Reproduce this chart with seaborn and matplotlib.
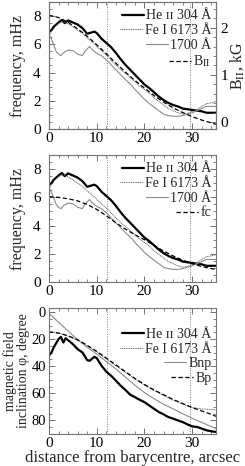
import matplotlib
matplotlib.use("Agg")
import matplotlib.pyplot as plt
from matplotlib.ticker import MultipleLocator
import seaborn as sns

# distance from barycentre, arcsec
he_x = [0, 0.5, 1, 2, 2.7, 3.3, 4, 5, 6, 7, 8, 8.5, 9.5, 10,
        11, 12, 13, 14, 15, 16, 17, 18, 19, 20, 21, 22, 23, 24, 25,
        26, 27, 28, 29, 30, 31, 32, 33, 34, 35]
he_freq = [6.9, 7.0, 7.25, 7.55, 7.73, 7.5, 7.7, 7.55, 7.4, 7.15, 6.75, 6.8, 6.9, 6.8,
           6.4, 6.1, 5.8, 5.4, 4.95, 4.55, 4.2, 3.85, 3.5, 3.15, 2.9, 2.6, 2.3, 2.05, 1.85,
           1.7, 1.6, 1.45, 1.4, 1.35, 1.3, 1.25, 1.15, 1.15, 1.15]

fe_x = list(range(36))
fe_freq = [6.65, 7.15, 7.5, 7.6, 7.45, 7.25, 7.0, 6.8, 6.45, 6.2, 5.85, 5.55,
           5.25, 4.9, 4.55, 4.2, 3.95, 3.65, 3.35, 3.05, 2.8, 2.55, 2.2, 1.95,
           1.7, 1.45, 1.3, 1.15, 1.05, 1.1, 1.25, 1.35, 1.6, 1.8, 1.85, 1.95]

uv_x = [0, 0.5, 1, 1.5, 2, 2.5, 3, 4, 5, 6, 7, 7.5, 8.5, 9, 10,
        11, 12, 13, 14, 15, 16, 17, 18, 19, 20, 21, 22, 23, 24, 25,
        26, 27, 28, 29, 30, 31, 32, 33, 34, 35]
uv_freq = [6.65, 6.4, 5.95, 5.5, 5.3, 5.2, 5.4, 5.6, 5.55, 5.3, 5.2, 5.5, 5.85, 5.65, 5.35,
           5.2, 4.9, 4.55, 4.2, 3.85, 3.5, 3.2, 2.8, 2.45, 2.1, 1.8, 1.55, 1.3, 1.05, 0.95,
           0.9, 0.9, 0.95, 1.05, 1.15, 1.3, 1.45, 1.6, 1.6, 1.6]

smooth_x = [0, 2, 4, 6, 8, 10, 12, 14, 16, 18, 20, 22, 24, 26, 28, 30, 32, 34, 35]
b_par = [2.27, 2.22, 2.12, 1.98, 1.82, 1.64, 1.45, 1.25, 1.06, 0.88, 0.72, 0.56,
         0.42, 0.3, 0.2, 0.11, 0.04, -0.02, -0.05]
fc = [6.05, 6.0, 5.9, 5.75, 5.5, 5.15, 4.7, 4.2, 3.75, 3.35, 3.0, 2.6,
      2.2, 1.85, 1.55, 1.3, 1.1, 0.95, 0.9]

# inclination, degree
he_inc_x = [0, 0.5, 1, 2, 2.5, 3, 3.5, 4, 5, 6, 7, 8, 8.5, 9.5, 10,
            11, 12, 13, 14, 15, 16, 17, 18, 19, 20, 21, 22, 23, 24, 25,
            26, 27, 28, 29, 30, 31, 32, 33, 34, 35]
he_inc = [32, 30, 26, 20, 18.3, 22.5, 19.3, 20.8, 23.7, 27.4, 29.8, 35.5, 36, 33, 34,
          39.6, 44, 47, 50.6, 54.3, 57.5, 61, 62.8, 64.8, 66.5, 69, 71.4, 73.8, 75.5, 77.5,
          78.7, 80, 81.2, 82.9, 84.4, 84.8, 86, 87.3, 88, 88.5]
fe_inc = [14.5, 15.5, 17.8, 21, 25, 29.5, 34.5, 39.5, 44.5, 49.5, 54, 58,
          61.5, 65, 68, 70.5, 71.5, 72, 72]
bnp_inc = [1, 7.5, 14, 20.5, 26, 31, 36.5, 42, 48, 54, 59.5, 64,
           68, 71.5, 75, 78.5, 81.5, 84.5, 86]
bp_inc = [14.7, 15.5, 17.5, 20.5, 24.5, 29, 34, 39, 44, 49, 53.5, 57.5,
          61, 64.5, 67.5, 70.5, 73, 75.5, 77]

# umbra / penumbra boundaries, arcsec
boundaries = [12.2, 29.5]

he_label = "He ɪɪ 304 Å"
fe_label = "Fe I 6173 Å"
uv_label = "1700 Å"

sns.set_style("ticks")
plt.rcParams["font.family"] = ["Liberation Serif", "DejaVu Serif"]
plt.rcParams["mathtext.fontset"] = "stix"
plt.rcParams["axes.edgecolor"] = "0.45"
plt.rcParams["axes.linewidth"] = 0.8
plt.rcParams["xtick.color"] = "0.45"
plt.rcParams["ytick.color"] = "0.45"
plt.rcParams["xtick.labelcolor"] = "black"
plt.rcParams["ytick.labelcolor"] = "black"

TICK_FS = 11
LABEL_FS = 11.5
LEGEND_FS = 10

he_style = dict(color="black", lw=1.6)
fe_style = dict(color="0.35", lw=0.7, linestyle=(0, (1, 0.8)))
uv_style = dict(color="0.55", lw=0.8)
dash_style = dict(color="black", lw=0.9, linestyle=(0, (3.5, 2)))


def setup(ax, ylim, ymajor, yminor, right=True, ypad=6):
    ax.set_xlim(0, 35)
    ax.set_ylim(*ylim)
    ax.xaxis.set_major_locator(MultipleLocator(10))
    ax.xaxis.set_minor_locator(MultipleLocator(2))
    ax.yaxis.set_major_locator(MultipleLocator(ymajor))
    ax.yaxis.set_minor_locator(MultipleLocator(yminor))
    ax.tick_params(which="both", direction="in", top=True, right=right,
                   labelsize=TICK_FS)
    ax.tick_params(which="major", length=4, width=0.7)
    ax.tick_params(which="minor", length=2, width=0.6)
    ax.tick_params(axis="x", pad=2)
    ax.tick_params(axis="y", pad=ypad)
    for b in boundaries:
        ax.axvline(b, color="0.5", lw=0.7, linestyle=(0, (1, 1.5)), zorder=1)


def right_legend(ax, handles, labels, y_top):
    leg = ax.legend(handles, labels, loc="upper right",
                    bbox_to_anchor=(1.0, y_top), frameon=False, fontsize=LEGEND_FS,
                    handlelength=1.6, handletextpad=0.15, labelspacing=0.12,
                    borderaxespad=0.25, borderpad=0.1)
    for col in leg._legend_handle_box.get_children():
        col.align = "right"
    return leg


fig = plt.figure(figsize=(2.45, 4.66), dpi=100)
ax1 = fig.add_axes([0.2, 0.7232, 0.682, 0.2725])
ax2 = fig.add_axes([0.2, 0.3948, 0.682, 0.2725])
ax3 = fig.add_axes([0.2, 0.0687, 0.682, 0.2704])

# panel 1: frequency + B_par
setup(ax1, (0, 9), 2, 0.5, right=False)
sns.lineplot(x=he_x, y=he_freq, ax=ax1, label=he_label, **he_style)
sns.lineplot(x=fe_x, y=fe_freq, ax=ax1, label=fe_label, **fe_style)
sns.lineplot(x=uv_x, y=uv_freq, ax=ax1, label=uv_label, **uv_style)
ax1r = ax1.twinx()
sns.lineplot(x=smooth_x, y=b_par, ax=ax1r, label=r"B$_{\rm II}$", **dash_style)
ax1r.set_ylim(-0.15, 2.55)
ax1r.yaxis.set_major_locator(MultipleLocator(1))
ax1r.yaxis.set_minor_locator(MultipleLocator(0.2))
ax1r.tick_params(which="both", direction="in", labelsize=TICK_FS, pad=3)
ax1r.tick_params(which="major", length=4, width=0.7)
ax1r.tick_params(which="minor", length=2, width=0.6)
ax1r.set_ylabel(r"B$_{\rm II}$, kG", fontsize=LABEL_FS, labelpad=0)
ax1.set_ylabel("frequency, mHz", fontsize=LABEL_FS, labelpad=5)
ax1.set_xlabel("")
if ax1.get_legend():
    ax1.get_legend().remove()
h1, l1 = ax1.get_legend_handles_labels()
h2, l2 = ax1r.get_legend_handles_labels()
right_legend(ax1r, h1 + h2, l1 + l2, 0.98)

# panel 2: frequency + cutoff
setup(ax2, (0, 9), 2, 0.5)
sns.lineplot(x=he_x, y=he_freq, ax=ax2, label=he_label, **he_style)
sns.lineplot(x=fe_x, y=fe_freq, ax=ax2, label=fe_label, **fe_style)
sns.lineplot(x=uv_x, y=uv_freq, ax=ax2, label=uv_label, **uv_style)
sns.lineplot(x=smooth_x, y=fc, ax=ax2, label="fc", **dash_style)
ax2.set_ylabel("frequency, mHz", fontsize=LABEL_FS, labelpad=5)
h, l = ax2.get_legend_handles_labels()
right_legend(ax2, h, l, 0.98)

# panel 3: inclination
setup(ax3, (90, -3), 20, 5, ypad=2)
ax3.tick_params(axis="y", labelsize=10.5)
sns.lineplot(x=he_inc_x, y=he_inc, ax=ax3, label=he_label, **he_style)
sns.lineplot(x=smooth_x, y=fe_inc, ax=ax3, label=fe_label, **fe_style)
sns.lineplot(x=smooth_x, y=bnp_inc, ax=ax3, label="Bnp", **uv_style)
sns.lineplot(x=smooth_x, y=bp_inc, ax=ax3, label="Bp", **dash_style)
ax3.set_ylabel("magnetic field\ninclination φ, degree", fontsize=10,
               linespacing=0.95)
ax3.yaxis.set_label_coords(-0.115, 0.5)
ax3.set_xlabel("distance from barycentre, arcsec", fontsize=12, labelpad=0)
h, l = ax3.get_legend_handles_labels()
right_legend(ax3, h, l, 0.88)

fig.savefig("out.png", dpi=100)
